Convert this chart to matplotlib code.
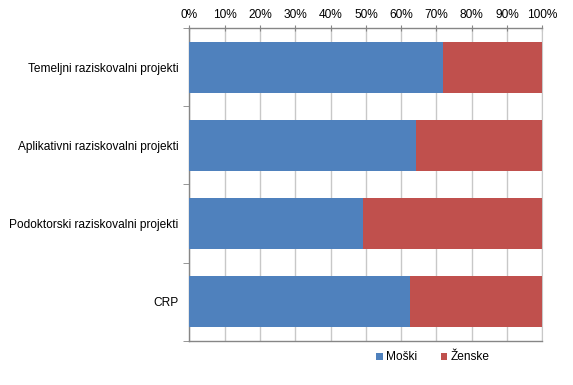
import numpy as np
import matplotlib.pyplot as plt
from matplotlib.ticker import MultipleLocator, PercentFormatter

plt.rcParams['font.family'] = ['Liberation Sans', 'DejaVu Sans']

# shares in percent
categories = ['Temeljni raziskovalni projekti',
              'Aplikativni raziskovalni projekti',
              'Podoktorski raziskovalni projekti',
              'CRP']
moski = [71.9, 64.2, 49.3, 62.4]
zenske = [28.1, 35.8, 50.7, 37.6]

blue = '#4F81BD'
red = '#C0504D'
axis_col = '#868686'
grid_col = '#C8C8C8'
fs = 8.6

fig = plt.figure(figsize=(5.73, 3.85), dpi=100)
ax = fig.add_axes([0.3307, 0.1151, 0.6157, 0.8114])

y = np.arange(len(categories))
ax.barh(y, moski, height=0.66, color=blue, label='Moški', zorder=3)
ax.barh(y, zenske, left=moski, height=0.66, color=red, label='Ženske', zorder=3)

ax.set_xlim(0, 100)
ax.set_ylim(len(categories) - 0.5, -0.5)
ax.xaxis.set_major_locator(MultipleLocator(10))
ax.xaxis.set_major_formatter(PercentFormatter(decimals=0))
ax.xaxis.tick_top()
ax.tick_params(axis='x', direction='inout', length=5, color=axis_col,
               labelsize=fs, pad=3)
ax.grid(axis='x', color=grid_col, linewidth=1, zorder=0)

ax.set_yticks(y)
ax.set_yticklabels(categories, fontsize=fs)
ax.set_yticks(np.arange(len(categories) + 1) - 0.5, minor=True)
ax.tick_params(axis='y', which='major', length=0, pad=8)
ax.tick_params(axis='y', which='minor', length=4, color=axis_col, direction='out')

for side in ['left', 'top', 'bottom']:
    ax.spines[side].set_color(axis_col)
    ax.spines[side].set_linewidth(1)
ax.spines['right'].set_color(grid_col)

ax.legend(loc='upper center', bbox_to_anchor=(0.69, 0.0), ncol=2, frameon=False,
          fontsize=fs, handlelength=0.55, handleheight=0.55, handletextpad=0.25,
          columnspacing=2.0)

fig.savefig('out.png', dpi=100)
